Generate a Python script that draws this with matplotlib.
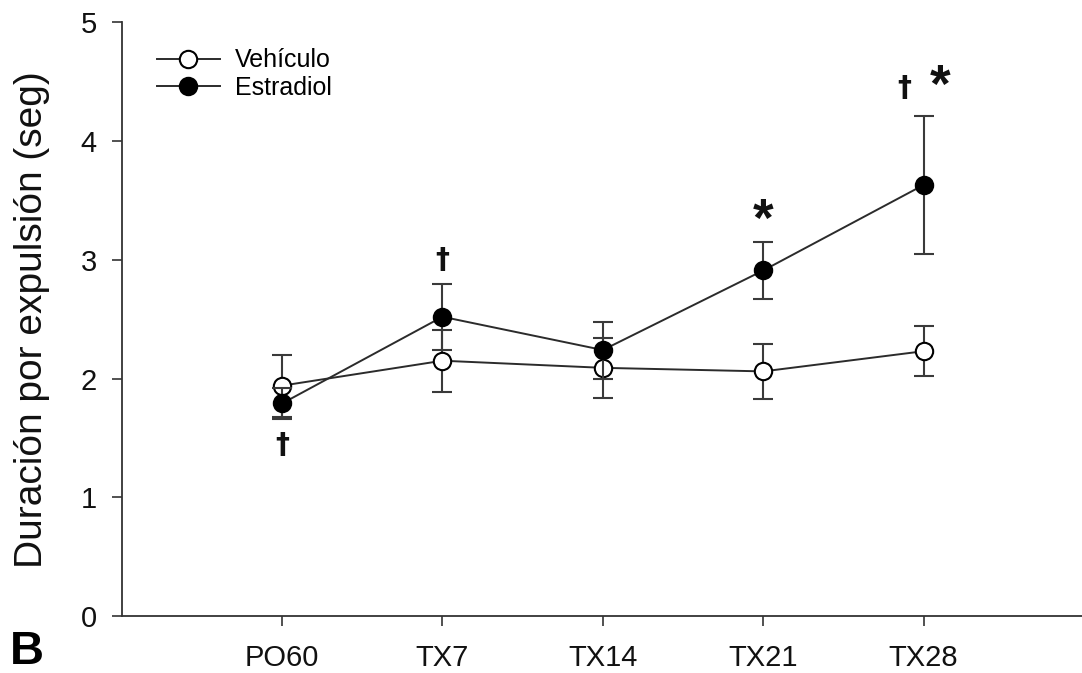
import matplotlib
matplotlib.use("Agg")
import matplotlib.pyplot as plt
from matplotlib.lines import Line2D
import numpy as np

plt.rcParams['font.family'] = ['Liberation Sans', 'DejaVu Sans']

categories = ["PO60", "TX7", "TX14", "TX21", "TX28"]
vehiculo_mean = [1.94, 2.15, 2.09, 2.06, 2.23]
vehiculo_err = [0.26, 0.26, 0.25, 0.23, 0.21]
estradiol_mean = [1.79, 2.52, 2.24, 2.91, 3.63]
estradiol_err = [0.13, 0.28, 0.24, 0.24, 0.58]
y_ticks = [0, 1, 2, 3, 4, 5]

W, H = 1082, 673
fig = plt.figure(figsize=(W / 100, H / 100), dpi=100)
ax = fig.add_axes([121.7 / W, 1 - 616 / H, (1084 - 121.7) / W, (616 - 22.3) / H])

x = np.arange(1, len(categories) + 1)
lc = '#2b2b2b'
ms = 12.5

ax.errorbar(x, vehiculo_mean, yerr=vehiculo_err, fmt='-o', color=lc, lw=1.4,
            ecolor='#3a3a3a', elinewidth=1.5, capsize=7.5, capthick=1.5,
            marker='o', markersize=ms, markerfacecolor='white',
            markeredgecolor='black', markeredgewidth=1.5, zorder=3)
ax.errorbar(x, estradiol_mean, yerr=estradiol_err, fmt='-o', color=lc, lw=1.4,
            ecolor='#3a3a3a', elinewidth=1.5, capsize=7.5, capthick=1.5,
            marker='o', markersize=ms, markerfacecolor='black',
            markeredgecolor='black', markeredgewidth=1.5, zorder=4)

ax.set_xlim(0, 6)
ax.set_ylim(0, 5)
ax.set_xticks(x)
ax.set_xticklabels(categories)
ax.set_yticks(y_ticks)
ax.set_yticklabels([str(v) for v in y_ticks])

for s in ['top', 'right']:
    ax.spines[s].set_visible(False)
for s in ['left', 'bottom']:
    ax.spines[s].set_color('#333333')
    ax.spines[s].set_linewidth(1.3)

ax.tick_params(axis='both', direction='out', length=7, width=1.2, color='#333333',
               labelsize=21, pad=11, labelcolor='#111111')
ax.tick_params(axis='x', pad=13)

ax.set_ylabel("Duración por expulsión (seg)", fontsize=28, color='#111111')
ax.yaxis.set_label_coords(-0.075, 0.5)

# significance marks
dag = dict(fontsize=20, fontweight='bold', ha='center', va='center', color='#111111',
           family='DejaVu Sans')
ast = dict(fontsize=38, fontweight='bold', ha='center', va='center', color='#111111')
ax.text(x[0], estradiol_mean[0] - estradiol_err[0] - 0.22, "†", **dag)
ax.text(x[1], estradiol_mean[1] + estradiol_err[1] + 0.2, "†", **dag)
ax.text(x[3], estradiol_mean[3] + estradiol_err[3] + 0.17, "*", **ast)
ax.text(x[4] - 0.12, estradiol_mean[4] + estradiol_err[4] + 0.24, "†", **dag)
ax.text(x[4] + 0.1, estradiol_mean[4] + estradiol_err[4] + 0.24, "*", **ast)

handles = [
    Line2D([], [], color=lc, lw=1.4, marker='o', markersize=ms, markerfacecolor='white',
           markeredgecolor='black', markeredgewidth=1.5),
    Line2D([], [], color=lc, lw=1.4, marker='o', markersize=ms, markerfacecolor='black',
           markeredgecolor='black', markeredgewidth=1.5),
]
ax.legend(handles, ["Vehículo", "Estradiol"], loc='upper left',
          bbox_to_anchor=((157 - 121.7) / 962, (616 - 48) / 594),
          frameon=False, fontsize=18, handlelength=2.5, handletextpad=0.6,
          labelspacing=0.15, borderpad=0, borderaxespad=0)

fig.text(10 / W, 1 - 664 / H, "B", fontsize=34, fontweight='bold', va='baseline', ha='left')

fig.savefig("out.png", dpi=100)
